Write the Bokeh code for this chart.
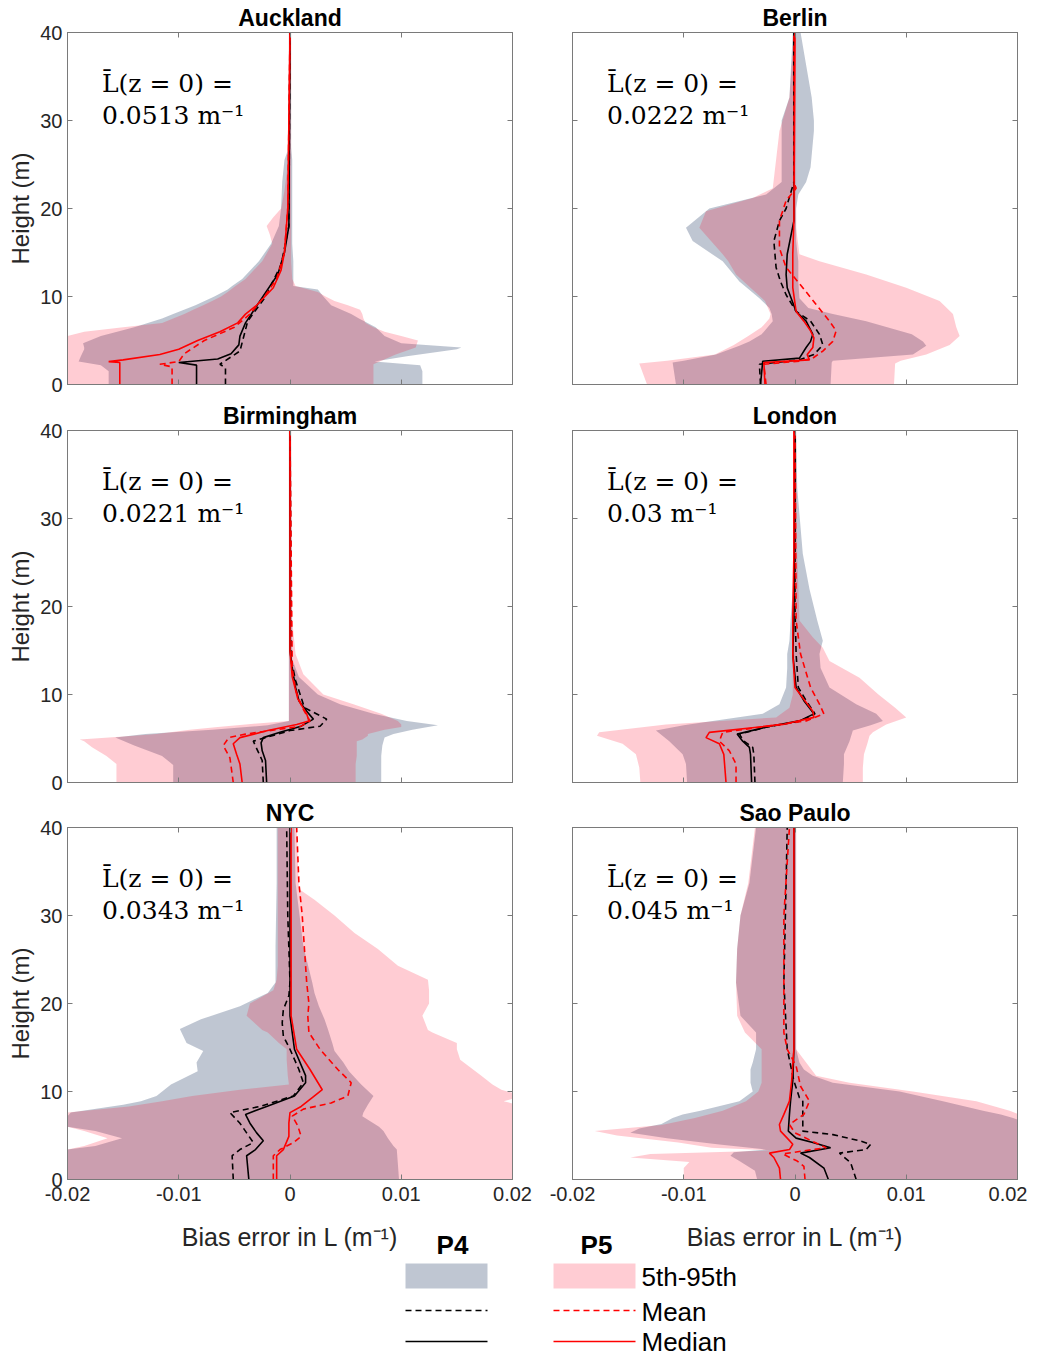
from bokeh.plotting import figure
from bokeh.layouts import row, column
from bokeh.models import ColumnDataSource, Range1d, LinearAxis, FixedTicker, Label
from bokeh.embed import file_html
from bokeh.resources import INLINE

# ---------------- data ----------------
X_TICKS = [-0.02, -0.01, 0.0, 0.01, 0.02]
X_TICK_LABELS = ["-0.02", "-0.01", "0", "0.01", "0.02"]
Y_TICKS = [0, 10, 20, 30, 40]
Y_TICK_LABELS = ["0", "10", "20", "30", "40"]

CITIES = ["Auckland", "Berlin", "Birmingham", "London", "NYC", "Sao Paulo"]
L_SURFACE = ["0.0513", "0.0222", "0.0221", "0.03", "0.0343", "0.045"]
X_LABEL = "Bias error in L (m\u207b\u00b9)"
Y_LABEL = "Height (m)"
GROUPS = ["P4", "P5"]
LEGEND_LABELS = ["5th-95th", "Mean", "Median"]

# bands: (height, 5th, 95th); lines: (height, value)
AUCK_P4_BAND = [(0, -0.0163, 0.0119), (1.5, -0.0163, 0.0119), (2.2, -0.0170, 0.0117), (2.6, -0.0190, 0.0076),
                (3.2, -0.0188, 0.0105), (4.0, -0.0185, 0.0150), (4.2, -0.0185, 0.0154), (4.7, -0.0186, 0.0100),
                (5.5, -0.0170, 0.0085), (6.5, -0.0140, 0.0077), (7.5, -0.0115, 0.0062), (8.0, -0.0105, 0.0055),
                (9.0, -0.0085, 0.0037), (10.0, -0.0068, 0.0030), (10.8, -0.0056, 0.0025), (11.2, -0.0052, 0.0003),
                (12.0, -0.0043, 0.0003), (14.0, -0.0028, 0.0003), (16.0, -0.0017, 0.0002), (18.0, -0.0010, 0.0002),
                (20.0, -0.0008, 0.0002), (23.0, -0.0007, 0.0002), (25.5, -0.0005, 0.0002), (27.0, -0.0001, 0.0001),
                (40.0, -0.0001, 0.0001)]
AUCK_P5_BAND = [(0, -0.0200, 0.0075), (2.3, -0.0200, 0.0075), (3.4, -0.0200, 0.0095), (4.2, -0.0200, 0.0113),
                (5.0, -0.0200, 0.0115), (5.5, -0.0200, 0.0100), (6.0, -0.0185, 0.0085), (6.5, -0.0150, 0.0075),
                (7.0, -0.0115, 0.0068), (7.5, -0.0105, 0.0066), (8.0, -0.0095, 0.0065), (8.5, -0.0087, 0.0063),
                (9.0, -0.0078, 0.0052), (9.5, -0.0070, 0.0040), (10.0, -0.0062, 0.0032), (10.5, -0.0056, 0.0025),
                (11.2, -0.0049, 0.0005), (12.0, -0.0040, 0.0002), (14.0, -0.0025, 0.0001), (16.0, -0.0016, 0.0001),
                (17.0, -0.0018, 0.0001), (18.0, -0.0021, 0.0001), (19.0, -0.0015, 0.0001), (20.0, -0.0008, 0.0001),
                (22.0, -0.0005, 0.0001), (25.0, -0.0002, 0.0001), (40.0, -0.0001, 0.0001)]
AUCK_P4_MEAN = [(0, -0.0058), (1.9, -0.0058), (2.3, -0.0063), (3.8, -0.0045), (7.2, -0.0038), (9.8, -0.0023),
                (13.6, -0.0008), (18, -0.0001), (40, 0.0)]
AUCK_P4_MEDIAN = [(0, -0.0084), (2.2, -0.0084), (2.5, -0.0100), (2.9, -0.0065), (3.5, -0.0053), (4.5, -0.0046),
                  (5.5, -0.0045), (7, -0.0040), (9.5, -0.0027), (12.5, -0.0011), (15, -0.0005), (18, -0.0001), (40, 0.0)]
AUCK_P5_MEAN = [(0, -0.0106), (2, -0.0106), (2.3, -0.0117), (2.6, -0.0100), (3.5, -0.0095), (5, -0.0077),
                (6.5, -0.0050), (8, -0.0036), (10, -0.0023), (12, -0.0012), (15, -0.0005), (20, -0.0002), (40, 0.0)]
AUCK_P5_MEDIAN = [(0, -0.0153), (2.5, -0.0153), (2.6, -0.0163), (2.8, -0.0150), (3.4, -0.0117), (4, -0.0100),
                  (5, -0.0083), (6, -0.0063), (7, -0.0047), (8, -0.0040), (9, -0.0030), (11, -0.0015), (13, -0.0008),
                  (15, -0.0005), (20, -0.0002), (40, 0.0)]

BERL_P4_BAND = [(0, -0.0107, 0.0032), (2.5, -0.0110, 0.0033), (2.7, -0.0100, 0.0034), (3.4, -0.0071, 0.0106),
                (4.4, -0.0050, 0.0118), (4.9, -0.0041, 0.0115), (5.7, -0.0030, 0.0105), (7.2, -0.0020, 0.0064),
                (8.0, -0.0021, 0.0034), (8.7, -0.0023, 0.0012), (9.8, -0.0032, 0.0004), (11.7, -0.0050, 0.0003),
                (14.0, -0.0065, 0.0003), (16.3, -0.0092, 0.0001), (17.8, -0.0098, 0.0001), (20.0, -0.0077, 0.0001),
                (21.6, -0.0026, 0.0003), (23.0, -0.0012, 0.0010), (24.7, -0.0012, 0.0014), (28.8, -0.0012, 0.0017),
                (30.0, -0.0012, 0.0017), (32.6, -0.0005, 0.0015), (40.0, -0.0002, 0.0005)]
BERL_P5_BAND = [(0, -0.0133, 0.0089), (2.4, -0.0140, 0.0090), (2.7, -0.0115, 0.0095), (3.4, -0.0072, 0.0118),
                (4.5, -0.0055, 0.0139), (5.5, -0.0042, 0.0148), (6.5, -0.0030, 0.0145), (7.5, -0.0023, 0.0143),
                (8.0, -0.0022, 0.0142), (9.5, -0.0027, 0.0130), (11.0, -0.0040, 0.0100), (12.5, -0.0053, 0.0064),
                (14.0, -0.0060, 0.0022), (14.8, -0.0065, 0.0004), (17.8, -0.0086, 0.0001), (19.7, -0.0080, 0.0001),
                (21.2, -0.0038, 0.0001), (22.3, -0.0020, 0.0001), (28.8, -0.0014, 0.0001), (32.6, -0.0005, 0.0001),
                (40.0, -0.0001, 0.0001)]
BERL_P4_MEAN = [(0, -0.0031), (2.3, -0.0032), (2.8, 0.0004), (3.4, 0.0017), (4.5, 0.0025), (5.7, 0.0022),
                (7.2, 0.0014), (8.3, 0.0001), (10.2, -0.0008), (11.7, -0.0013), (13.3, -0.0017), (16.3, -0.0019),
                (18.6, -0.0014), (20, -0.0008), (23, -0.0001), (40, -0.0001)]
BERL_P4_MEDIAN = [(0, -0.0031), (2.65, -0.0029), (3, 0.0004), (4.2, 0.0010), (4.9, 0.0014), (5.7, 0.0016),
                  (7.2, 0.0010), (8.3, 0.0001), (11, -0.0007), (12.5, -0.0008), (14.8, -0.0007), (18.6, -0.0001),
                  (40, -0.0001)]
BERL_P5_MEAN = [(0, -0.0026), (2.3, -0.0028), (2.65, 0.0004), (3, 0.0016), (3.8, 0.0025), (4.9, 0.0034),
                (6.1, 0.0037), (7.2, 0.0031), (9.1, 0.0019), (11, 0.0007), (13.3, -0.0008), (15.5, -0.0014),
                (18.6, -0.0014), (20.9, -0.0008), (22.3, 0.0001), (23, -0.0001), (40, -0.0001)]
BERL_P5_MEDIAN = [(0, -0.0027), (2.5, -0.0028), (2.8, 0.0013), (3.4, 0.0011), (4.2, 0.0016), (5.3, 0.0017),
                  (6.1, 0.0014), (7.2, 0.0008), (8.3, 0.0001), (11, -0.0002), (14.8, -0.0002), (18.6, -0.0001),
                  (40, 0.0)]

BIRM_P4_BAND = [(0, -0.0105, 0.0082), (2, -0.0105, 0.0082), (3, -0.0115, 0.0082), (4.2, -0.0140, 0.0083),
                (5.1, -0.0157, 0.0085), (5.5, -0.0130, 0.0093), (6, -0.0070, 0.0110), (6.5, -0.0020, 0.0133),
                (7, -0.0001, 0.0105), (7.8, -0.0001, 0.0075), (8.9, -0.0001, 0.0045), (10, -0.0001, 0.0025),
                (12, -0.0001, 0.0008), (14, -0.0001, 0.0002), (40, -0.0001, 0.0001)]
BIRM_P5_BAND = [(0, -0.0156, 0.0059), (2.1, -0.0156, 0.0059), (3, -0.0165, 0.0060), (4, -0.0178, 0.0060),
                (4.7, -0.0185, 0.0060), (4.9, -0.0189, 0.0065), (5.3, -0.0140, 0.0070), (5.5, -0.0120, 0.0070),
                (6, -0.0090, 0.0085), (6.3, -0.0065, 0.0100), (6.6, -0.0040, 0.0100), (7, -0.0001, 0.0097),
                (7.8, -0.0001, 0.0082), (8.9, -0.0001, 0.0057), (10, -0.0001, 0.0030), (12.3, -0.0001, 0.0012),
                (14.6, -0.0001, 0.0005), (18.4, -0.0001, 0.0002), (40, -0.0001, 0.0001)]
BIRM_P4_MEAN = [(0, -0.0024), (2.5, -0.0025), (3.6, -0.0029), (4.7, -0.0033), (5.9, 0.0000), (6.4, 0.0027),
                (7.2, 0.0033), (8.5, 0.0013), (11.6, 0.0005), (14, 0.0001), (40, 0.0)]
BIRM_P4_MEDIAN = [(0, -0.0021), (2.5, -0.0022), (3.6, -0.0025), (4.5, -0.0026), (5.1, -0.0024), (5.7, -0.0009),
                  (6.4, 0.0010), (7.2, 0.0021), (8.1, 0.0015), (9.3, 0.0008), (10.8, 0.0005), (13, 0.0002),
                  (15, 0.0), (40, 0.0)]
BIRM_P5_MEAN = [(0, -0.0051), (2.8, -0.0054), (4.2, -0.0060), (5.1, -0.0055), (5.5, -0.0040), (6.4, 0.0010),
                (7, 0.0018), (8.5, 0.0011), (10.5, 0.0005), (13, 0.0002), (40, 0.0)]
BIRM_P5_MEDIAN = [(0, -0.0043), (2.1, -0.0045), (3.2, -0.0048), (4.4, -0.0051), (5.1, -0.0045), (5.9, -0.0020),
                  (6.6, 0.0006), (7, 0.0017), (7.8, 0.0015), (9.5, 0.0007), (12, 0.0002), (15, 0.0), (40, 0.0)]

LOND_P4_BAND = [(0, -0.0097, 0.0043), (2.1, -0.0098, 0.0044), (3.2, -0.0101, 0.0044), (4.7, -0.0113, 0.0049),
                (5.9, -0.0125, 0.0052), (6.5, -0.0100, 0.0068), (7, -0.0074, 0.0079), (7.8, -0.0029, 0.0073),
                (8.9, -0.0014, 0.0055), (10.8, -0.0008, 0.0031), (13, -0.0007, 0.0023), (14.6, -0.0007, 0.0022),
                (16.1, -0.0005, 0.0025), (18.4, -0.0004, 0.0020), (22, -0.0002, 0.0013), (26, -0.0001, 0.0007),
                (33.5, -0.0001, 0.0002), (40, -0.0001, 0.0001)]
LOND_P5_BAND = [(0, -0.0139, 0.0061), (1.7, -0.0140, 0.0061), (3.2, -0.0143, 0.0062), (4.4, -0.0155, 0.0065),
                (5.3, -0.0178, 0.0067), (5.7, -0.0176, 0.0070), (6.6, -0.0116, 0.0082), (7.4, -0.0017, 0.0100),
                (8.5, -0.0005, 0.0090), (10, -0.0002, 0.0075), (11.9, -0.0002, 0.0058), (13.8, -0.0002, 0.0031),
                (15.3, -0.0002, 0.0025), (16.5, -0.0002, 0.0016), (18.4, -0.0002, 0.0004), (26, -0.0001, 0.0002),
                (40, -0.0001, 0.0001)]
LOND_P4_MEAN = [(0, -0.0036), (3.2, -0.0037), (4, -0.0038), (4.7, -0.0046), (5.5, -0.0050), (6.3, -0.0025),
                (7, 0.0005), (7.8, 0.0018), (9.3, 0.0010), (10.8, 0.0003), (14.6, 0.0001), (20, 0.0), (40, 0.0)]
LOND_P4_MEDIAN = [(0, -0.0039), (3.2, -0.0040), (4, -0.0041), (4.7, -0.0047), (5.5, -0.0052), (6.3, -0.0026),
                  (7, 0.0004), (7.8, 0.0017), (9.3, 0.0008), (10.8, 0.0001), (14.6, -0.0002), (18.4, -0.0001),
                  (40, 0.0)]
LOND_P5_MEAN = [(0, -0.0053), (2.1, -0.0053), (3.6, -0.0059), (4.7, -0.0068), (5.7, -0.0065), (7, 0.0010),
                (7.8, 0.0026), (8.9, 0.0022), (10.8, 0.0014), (14.6, 0.0005), (18.4, 0.0001), (40, 0.0)]
LOND_P5_MEDIAN = [(0, -0.0062), (3.2, -0.0064), (4.4, -0.0068), (5.1, -0.0080), (5.7, -0.0077), (6.6, -0.0011),
                  (7.4, 0.0017), (8.1, 0.0016), (10.8, 0.0), (14.6, -0.0002), (18.4, -0.0002), (26, -0.0001),
                  (40, -0.0001)]

NYC_P4_BAND = [(0, -0.0200, 0.0098), (3.4, -0.0200, 0.0096), (3.8, -0.0175, 0.0093), (4.7, -0.0151, 0.0088),
               (5.5, -0.0175, 0.0084), (6, -0.0200, 0.0080), (7.2, -0.0200, 0.0065), (7.6, -0.0197, 0.0066),
               (8.5, -0.0150, 0.0070), (8.9, -0.0134, 0.0072), (9.5, -0.0120, 0.0075), (10.8, -0.0107, 0.0064),
               (12.3, -0.0083, 0.0053), (13.3, -0.0084, 0.0048), (14.6, -0.0078, 0.0040), (15.5, -0.0093, 0.0038),
               (17.1, -0.0099, 0.0034), (18.2, -0.0080, 0.0031), (19.7, -0.0045, 0.0026), (21.2, -0.0020, 0.0022),
               (22.4, -0.0013, 0.0020), (26.5, -0.0013, 0.0012), (33.7, -0.0012, 0.0005), (40, -0.0012, 0.0004)]
NYC_P5_BAND = [(0, -0.0200, 0.0210), (3.4, -0.0200, 0.0210), (3.8, -0.0185, 0.0210), (4.7, -0.0164, 0.0210),
               (5.5, -0.0185, 0.0210), (6, -0.0200, 0.0210), (7.6, -0.0200, 0.0210), (8.3, -0.0145, 0.0210),
               (8.9, -0.0115, 0.0192), (9.5, -0.0088, 0.0210), (10.2, -0.0045, 0.0190), (10.8, -0.0001, 0.0182),
               (11.8, -0.0002, 0.0172), (13.6, -0.0003, 0.0153), (14.8, -0.0003, 0.0150), (15.5, -0.0010, 0.0150),
               (16.7, -0.0020, 0.0128), (17, -0.0025, 0.0124), (18.6, -0.0039, 0.0119), (20, -0.0036, 0.0125),
               (21.5, -0.0015, 0.0125), (22.7, -0.0012, 0.0124), (24.3, -0.0011, 0.0097), (26.2, -0.0011, 0.0079),
               (28, -0.0011, 0.0058), (30, -0.0011, 0.0040), (31.8, -0.0011, 0.0022), (33, -0.0011, 0.0008),
               (40, -0.0011, 0.0006)]
NYC_P4_MEAN = [(0, -0.0051), (2.7, -0.0052), (3.4, -0.0045), (4.2, -0.0033), (5.3, -0.0039), (6.4, -0.0045),
               (7.6, -0.0054), (8.3, -0.0027), (9.5, 0.0003), (11, 0.0012), (12.5, 0.0008), (14.8, 0.0),
               (16.3, -0.0006), (17.8, -0.0007), (19.3, -0.0006), (20.9, -0.0001), (22.4, 0.0), (30, -0.0002),
               (40, -0.0003)]
NYC_P4_MEDIAN = [(0, -0.0037), (2.7, -0.0039), (3.4, -0.0031), (4.4, -0.0024), (5.3, -0.0030), (6.4, -0.0036),
                 (7.4, -0.0040), (8.3, -0.0021), (9.5, 0.0004), (11, 0.0014), (11.8, 0.0014), (14.8, 0.0004),
                 (18.6, 0.0), (40, 0.0)]
NYC_P5_MEAN = [(0, -0.0015), (2.7, -0.0015), (3.4, -0.0009), (4.2, 0.0003), (4.9, 0.0010), (6.1, 0.0007),
               (7.2, 0.0002), (8, 0.0012), (8.7, 0.0037), (9.5, 0.0052), (11, 0.0055), (12.5, 0.0043),
               (14.8, 0.0027), (16.7, 0.0017), (18.6, 0.0016), (20, 0.0017), (22.4, 0.0015), (30, 0.0011),
               (33.7, 0.0008), (40, 0.0006)]
NYC_P5_MEDIAN = [(0, -0.0012), (2.7, -0.0012), (3.4, -0.0006), (4.9, -0.0001), (6.4, -0.0001), (7.6, 0.0),
                 (8.3, 0.0010), (9.5, 0.0022), (10.2, 0.0029), (12.5, 0.0018), (14.8, 0.0006), (18.6, 0.0001),
                 (40, 0.0001)]

SAOP_P4_BAND = [(0, -0.0034, 0.0210), (1.0, -0.0036, 0.0210), (2.1, -0.0050, 0.0210), (2.7, -0.0058, 0.0210),
                (3.1, -0.0055, 0.0210), (3.4, -0.0026, 0.0210), (4.0, -0.0070, 0.0210), (4.7, -0.0115, 0.0210),
                (5.3, -0.0148, 0.0210), (5.8, -0.0140, 0.0210), (6.3, -0.0120, 0.0210), (7.0, -0.0110, 0.0196),
                (7.4, -0.0101, 0.0185), (7.8, -0.0085, 0.0169), (8.9, -0.0050, 0.0133), (10.0, -0.0038, 0.0094),
                (11.0, -0.0040, 0.0034), (11.8, -0.0040, 0.0016), (12.5, -0.0040, 0.0008), (13.3, -0.0038, 0.0004),
                (14.8, -0.0035, 0.0001), (16.7, -0.0035, 0.0001), (18.6, -0.0049, 0.0001), (22.4, -0.0053, 0.0001),
                (26.2, -0.0052, 0.0001), (30, -0.0049, 0.0001), (33.7, -0.0041, 0.0001), (40, -0.0035, 0.0001)]
SAOP_P5_BAND = [(0, -0.0100, 0.0210), (1.3, -0.0100, 0.0210), (2.0, -0.0095, 0.0210), (2.5, -0.0148, 0.0210),
                (2.9, -0.0130, 0.0210), (3.3, -0.0020, 0.0210), (3.6, -0.0075, 0.0210), (4.2, -0.0105, 0.0210),
                (5.0, -0.0160, 0.0210), (5.5, -0.0180, 0.0210), (6.2, -0.0120, 0.0210), (7.0, -0.0090, 0.0210),
                (7.8, -0.0065, 0.0193), (8.9, -0.0044, 0.0163), (10.0, -0.0033, 0.0106), (11.0, -0.0030, 0.0049),
                (11.8, -0.0030, 0.0019), (14.8, -0.0030, 0.0001), (16.7, -0.0045, 0.0001), (18.6, -0.0052, 0.0001),
                (22.4, -0.0053, 0.0001), (26.2, -0.0052, 0.0001), (30, -0.0049, 0.0001), (33.7, -0.0042, 0.0001),
                (40, -0.0036, 0.0001)]
SAOP_P4_MEAN = [(0, 0.0055), (1.9, 0.0050), (3, 0.0040), (3.4, 0.0064), (4, 0.0068), (4.4, 0.0058),
                (5.1, 0.0034), (5.5, 0.0007), (7.4, 0.0007), (8.9, 0.0007), (9.3, 0.0004), (11.2, -0.0001),
                (14.8, -0.0007), (22.4, -0.0010), (33.7, -0.0008), (40, -0.0007)]
SAOP_P4_MEDIAN = [(0, 0.0030), (1.3, 0.0026), (2.5, 0.0013), (3, 0.0005), (3.6, 0.0032), (4.2, 0.0016),
                  (4.7, 0.0001), (5.5, -0.0006), (7.4, -0.0005), (8.9, -0.0004), (11.2, -0.0002), (14.8, -0.0001),
                  (40, -0.0001)]
SAOP_P5_MEAN = [(0, 0.0009), (1.5, 0.0008), (2.1, 0.0002), (2.9, -0.0011), (3.3, 0.0010), (3.6, 0.0028),
                (4.2, 0.0018), (4.5, 0.0013), (5.3, 0.0), (6.25, -0.0005), (7.4, 0.0008), (8.9, 0.0013),
                (10.6, 0.0005), (12.9, 0.0001), (14.8, -0.0007), (16.7, -0.0010), (30, -0.0010), (40, -0.0005)]
SAOP_P5_MEDIAN = [(0, -0.0013), (1.3, -0.0014), (2.5, -0.0019), (3, -0.0023), (3.4, -0.0005), (4, -0.0002),
                  (4.7, -0.0007), (5.5, -0.0013), (6.25, -0.0014), (7.4, -0.0010), (8.9, -0.0005), (11.2, -0.0003),
                  (14.8, -0.0001), (40, -0.0001)]

PANEL_DATA = [
    (AUCK_P4_BAND, AUCK_P5_BAND, AUCK_P4_MEAN, AUCK_P4_MEDIAN, AUCK_P5_MEAN, AUCK_P5_MEDIAN),
    (BERL_P4_BAND, BERL_P5_BAND, BERL_P4_MEAN, BERL_P4_MEDIAN, BERL_P5_MEAN, BERL_P5_MEDIAN),
    (BIRM_P4_BAND, BIRM_P5_BAND, BIRM_P4_MEAN, BIRM_P4_MEDIAN, BIRM_P5_MEAN, BIRM_P5_MEDIAN),
    (LOND_P4_BAND, LOND_P5_BAND, LOND_P4_MEAN, LOND_P4_MEDIAN, LOND_P5_MEAN, LOND_P5_MEDIAN),
    (NYC_P4_BAND, NYC_P5_BAND, NYC_P4_MEAN, NYC_P4_MEDIAN, NYC_P5_MEAN, NYC_P5_MEDIAN),
    (SAOP_P4_BAND, SAOP_P5_BAND, SAOP_P4_MEAN, SAOP_P4_MEDIAN, SAOP_P5_MEAN, SAOP_P5_MEDIAN),
]

# ---------------- style ----------------
GRAY = "#485c7e"
GRAY_ALPHA = 0.35
PINK = "#ff0023"
PINK_ALPHA = 0.2
FRAME = "#7a7a7a"
TICK_TEXT = "#262626"
SANS = "Liberation Sans"
SERIF = "DejaVu Serif"

FRAME_W, FRAME_H = 445, 352
LEFT_BORDERS = (67, 22)
RIGHT_BORDERS = (38, 10)
ROW_BORDERS = [(32, 14), (32, 13), (32, 32)]
LEFT_W = LEFT_BORDERS[0] + FRAME_W + LEFT_BORDERS[1]
RIGHT_W = RIGHT_BORDERS[0] + FRAME_W + RIGHT_BORDERS[1]
FOOT_H = 146


def style_axis(ax, ticks, labels, show):
    ax.axis_line_color = FRAME
    ax.major_tick_in = 5
    ax.major_tick_out = 0
    ax.minor_tick_in = 5
    ax.minor_tick_out = 0
    ax.major_tick_line_color = FRAME
    ax.minor_tick_line_color = FRAME
    if show:
        ax.ticker = FixedTicker(ticks=ticks)
        ax.major_label_overrides = {t: s for t, s in zip(ticks, labels)}
        ax.major_label_text_font = SANS
        ax.major_label_text_font_size = "20px"
        ax.major_label_text_color = TICK_TEXT
        ax.major_label_standoff = 5
    else:
        # unlabeled side: tick marks only (drawn as minor ticks, so no label texts at all)
        ax.ticker = FixedTicker(ticks=[], minor_ticks=ticks)
        ax.major_label_standoff = 0


def make_panel(i):
    left_col = (i % 2 == 0)
    r = i // 2
    bottom_row = (r == 2)
    bl, br = LEFT_BORDERS if left_col else RIGHT_BORDERS
    bt, bb = ROW_BORDERS[r]
    p = figure(width=bl + FRAME_W + br, height=bt + FRAME_H + bb,
               x_range=Range1d(-0.02, 0.02), y_range=Range1d(0, 40),
               output_backend="svg", toolbar_location=None,
               min_border_left=bl, min_border_right=br, min_border_top=bt, min_border_bottom=bb,
               title=CITIES[i])
    p.title.align = "center"
    p.title.text_font = SANS
    p.title.text_font_style = "bold"
    p.title.text_font_size = "23px"
    p.title.text_color = "black"
    p.title.standoff = 3
    p.xgrid.visible = False
    p.ygrid.visible = False
    p.outline_line_color = FRAME
    p.background_fill_color = "white"
    p.border_fill_color = "white"

    bottom_ax = p.xaxis[0]
    left_ax = p.yaxis[0]
    style_axis(bottom_ax, X_TICKS, X_TICK_LABELS, bottom_row)
    style_axis(left_ax, Y_TICKS, Y_TICK_LABELS, left_col)
    top_ax = LinearAxis()
    style_axis(top_ax, X_TICKS, X_TICK_LABELS, False)
    p.add_layout(top_ax, "above")
    right_ax = LinearAxis()
    style_axis(right_ax, Y_TICKS, Y_TICK_LABELS, False)
    p.add_layout(right_ax, "right")

    if left_col:
        left_ax.axis_label = Y_LABEL
        left_ax.axis_label_text_font = SANS
        left_ax.axis_label_text_font_size = "24px"
        left_ax.axis_label_text_font_style = "normal"
        left_ax.axis_label_text_color = TICK_TEXT
        left_ax.axis_label_standoff = 3
    if bottom_row:
        bottom_ax.major_label_standoff = 7

    p4b, p5b, p4mean, p4med, p5mean, p5med = PANEL_DATA[i]
    for band, col, alpha in ((p4b, GRAY, GRAY_ALPHA), (p5b, PINK, PINK_ALPHA)):
        src = ColumnDataSource(dict(h=[b[0] for b in band], lo=[b[1] for b in band], hi=[b[2] for b in band]))
        p.harea(x1="lo", x2="hi", y="h", source=src, fill_color=col, fill_alpha=alpha)
    for series, col, dash in ((p4mean, "black", "6 4"), (p4med, "black", "solid"),
                              (p5mean, "red", "6 4"), (p5med, "red", "solid")):
        p.line(x=[s[1] for s in series], y=[s[0] for s in series], line_color=col,
               line_width=1.6, line_dash=dash)

    p.add_layout(Label(x=-0.0169, y=34.2, text="L\u0304(z = 0) =", text_font=SERIF,
                       text_font_size="25px", text_color="black", text_baseline="alphabetic"))
    p.add_layout(Label(x=-0.0169, y=30.6, text=L_SURFACE[i] + " m\u207b\u00b9", text_font=SERIF,
                       text_font_size="25px", text_color="black", text_baseline="alphabetic"))
    return p


panels = [make_panel(i) for i in range(6)]

# footer: shared x-axis labels and the legend (positions in footer pixels)
FW = LEFT_W + RIGHT_W
foot = figure(width=FW, height=FOOT_H, x_range=Range1d(0, FW), y_range=Range1d(0, FOOT_H),
              output_backend="svg", toolbar_location=None, min_border=0,
              x_axis_type=None, y_axis_type=None)
foot.grid.visible = False
foot.outline_line_color = None
foot.background_fill_color = "white"
for cx in (LEFT_BORDERS[0] + FRAME_W / 2, LEFT_W + RIGHT_BORDERS[0] + FRAME_W / 2):
    foot.add_layout(Label(x=cx, y=121, text=X_LABEL, text_font=SANS, text_font_size="25px",
                          text_color=TICK_TEXT, text_align="center", text_baseline="middle"))
for gx, g in zip((452, 596), GROUPS):
    foot.add_layout(Label(x=gx, y=113, text=g, text_font=SANS, text_font_style="bold",
                          text_font_size="26px", text_color="black", text_align="center",
                          text_baseline="middle"))
foot.quad(left=[405], right=[487], bottom=[69], top=[94], fill_color=GRAY, fill_alpha=GRAY_ALPHA, line_color=None)
foot.quad(left=[553], right=[635], bottom=[69], top=[94], fill_color=PINK, fill_alpha=PINK_ALPHA, line_color=None)
foot.line(x=[405, 487], y=[47, 47], line_color="black", line_width=1.6, line_dash="6 4")
foot.line(x=[553, 635], y=[47, 47], line_color="red", line_width=1.6, line_dash="6 4")
foot.line(x=[405, 487], y=[16, 16], line_color="black", line_width=1.6)
foot.line(x=[553, 635], y=[16, 16], line_color="red", line_width=1.6)
for txt, yy in zip(LEGEND_LABELS, (81, 46, 16)):
    foot.add_layout(Label(x=641, y=yy, text=txt, text_font=SANS, text_font_size="26px",
                          text_color="black", text_baseline="middle"))

layout = column(row(panels[0], panels[1]), row(panels[2], panels[3]), row(panels[4], panels[5]), foot)

open("out.html", "w").write(file_html(layout, INLINE))
